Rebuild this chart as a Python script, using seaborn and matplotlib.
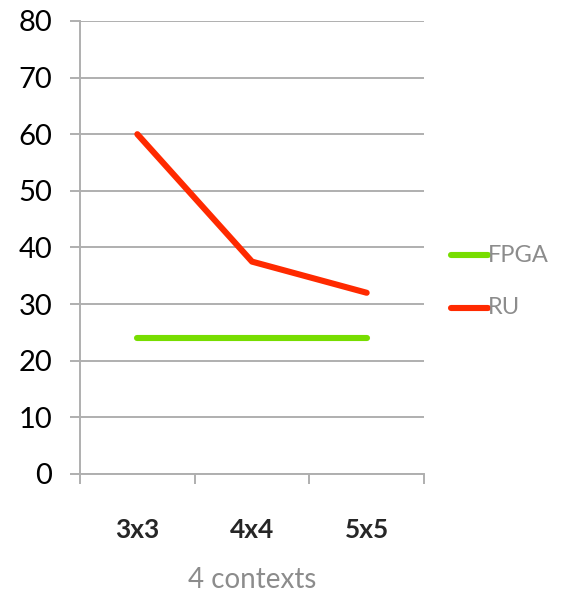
import pandas as pd
import numpy as np
import matplotlib.pyplot as plt
import seaborn as sns

sns.set_style('white')
plt.rcParams['font.family'] = ['Lato', 'DejaVu Sans']

# data
categories = ['3x3', '4x4', '5x5']
fpga = [24, 24, 24]
ru = [60, 37.5, 32]
series_names = ['FPGA', 'RU']
colors = ['#77DD00', '#FF2A00']

df = pd.DataFrame({
    'size': categories * 2,
    'value': fpga + ru,
    'series': [series_names[0]] * 3 + [series_names[1]] * 3,
})

grid_col = '#AFAFAF'
fig = plt.figure(figsize=(5.69, 5.93), dpi=100)
ax = fig.add_axes([0.1406, 0.2007, 0.6046, 0.764])

sns.lineplot(data=df, x='size', y='value', hue='series', palette=colors,
             linewidth=4.4, ax=ax, legend=False, sort=False)
for ln in ax.lines:
    ln.set_solid_capstyle('round')

ax.set_xlim(-0.5, 2.5)
ax.set_ylim(0, 80)
ax.set_yticks(np.arange(0, 81, 10))
ax.yaxis.grid(True, color=grid_col, linewidth=1.4)
ax.set_axisbelow(True)
for s in ['top', 'right']:
    ax.spines[s].set_visible(False)
for s in ['left', 'bottom']:
    ax.spines[s].set_color(grid_col)
    ax.spines[s].set_linewidth(1.4)

ax.tick_params(axis='y', length=7, width=1.4, color=grid_col, labelsize=21,
               labelcolor='black', pad=13, left=True)
ax.set_xticks(range(len(categories)))
ax.set_xticklabels(categories, fontsize=19, fontweight='bold')
ax.set_xticks([-0.5, 0.5, 1.5, 2.5], minor=True)
ax.tick_params(axis='x', which='major', length=0, pad=32)
ax.tick_params(axis='x', which='minor', length=7, width=1.4, color=grid_col,
               bottom=True)

ax.set_xlabel('4 contexts', fontsize=20, color='#8C8C8C', labelpad=18)
ax.set_ylabel('')

# legend to the right
legend_y = [1 - 255 / 593, 1 - 308 / 593]
for name, col, yf in zip(series_names, colors, legend_y):
    fig.lines.append(plt.Line2D([0.793, 0.858], [yf, yf], color=col,
                                linewidth=4.4, solid_capstyle='round',
                                transform=fig.transFigure))
    fig.text(0.858, yf, name, fontsize=17, color='#8C8C8C', va='center', ha='left')

fig.savefig('out.png', dpi=100)
